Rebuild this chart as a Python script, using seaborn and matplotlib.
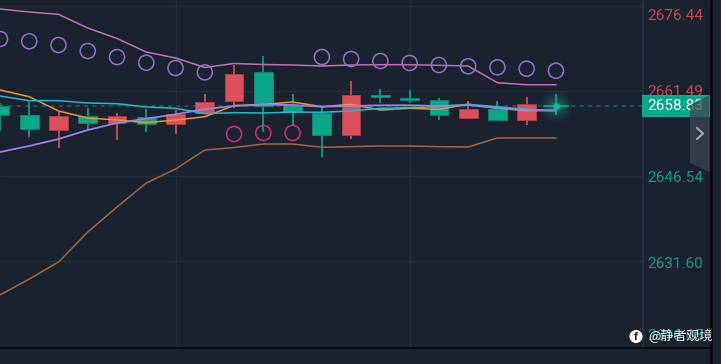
import matplotlib
matplotlib.use("Agg")
import matplotlib.pyplot as plt
from matplotlib.patches import Rectangle, Polygon, Circle
import numpy as np
import seaborn as sns

BG = "#1a222f"
GRID = "#242e3b"
RED = "#dd4f5b"
GREEN = "#0aa88a"

idx = list(range(20))
high = [2659.37, 2659.60, 2657.74, 2658.55, 2657.67, 2658.32, 2658.14, 2660.96, 2666.06, 2667.64,
        2660.96, 2658.72, 2663.19, 2661.78, 2661.66, 2660.25, 2659.67, 2659.67, 2660.48, 2660.90]
low = [2654.45, 2653.44, 2651.51, 2654.62, 2652.86, 2654.32, 2653.92, 2657.56, 2658.44, 2654.32,
       2655.50, 2649.82, 2653.04, 2659.32, 2659.43, 2656.38, 2656.79, 2656.38, 2655.50, 2657.26]
opens = [2658.84, 2657.21, 2654.62, 2657.03, 2655.91, 2656.96, 2655.73, 2657.56, 2659.67, 2664.88,
         2659.02, 2657.67, 2653.74, 2660.73, 2660.20, 2659.85, 2656.79, 2658.26, 2656.38, 2659.02]
closes = [2657.26, 2654.85, 2657.03, 2655.91, 2657.03, 2655.73, 2657.38, 2659.60, 2664.47, 2658.84,
          2657.84, 2653.74, 2660.73, 2660.38, 2659.90, 2657.26, 2658.26, 2656.38, 2659.20, 2658.83]

upper_band = [2675.91, 2675.38, 2674.97, 2672.56, 2670.72, 2668.34, 2667.29, 2665.62, 2666.32, 2666.14,
              2666.06, 2665.88, 2666.06, 2666.11, 2666.11, 2666.00, 2665.88, 2662.94, 2662.59, 2662.59]
lower_band = [2625.60, 2628.41, 2631.40, 2636.68, 2641.08, 2645.30, 2647.76, 2651.10, 2651.54, 2652.16,
              2652.16, 2651.58, 2651.69, 2651.81, 2651.81, 2651.69, 2651.63, 2653.22, 2653.22, 2653.22]
ma_orange = [2661.66, 2660.48, 2657.97, 2656.73, 2656.38, 2655.91, 2656.38, 2656.96, 2658.93, 2659.11,
             2659.55, 2658.72, 2659.14, 2658.14, 2658.44, 2658.26, 2659.14, 2658.44, 2658.02, 2658.14]
ma_cyan = [2660.60, 2659.78, 2659.78, 2659.37, 2659.25, 2658.67, 2658.44, 2657.49, 2657.67, 2657.61,
           2657.79, 2657.74, 2657.97, 2658.44, 2658.55, 2658.72, 2659.14, 2658.72, 2658.26, 2658.02]
ma_purple = [2650.75, 2651.81, 2653.04, 2654.62, 2655.85, 2656.61, 2657.38, 2658.32, 2658.84, 2659.07,
             2659.02, 2658.72, 2658.84, 2658.97, 2658.97, 2658.84, 2659.02, 2658.49, 2658.14, 2657.97]

sar_up_x = [0, 1, 2, 3, 4, 5, 6, 7, 11, 12, 13, 14, 15, 16, 17, 18, 19]
sar_up_y = [2670.63, 2670.23, 2669.57, 2668.52, 2667.46, 2666.46, 2665.53, 2664.77,
            2667.46, 2667.11, 2666.76, 2666.41, 2666.06, 2665.83, 2665.65, 2665.41, 2665.05]
sar_dn_x = [8, 9, 10]
sar_dn_y = [2653.92, 2654.10, 2654.10]

grid_prices = [2676.44, 2661.49, 2646.54, 2631.60, 2616.65]
price_labels = ["2676.44", "2661.49", "2646.54", "2631.60", "2616.65"]
label_colors = ["#c8434f", "#c8434f", "#0c9c85", "#0c9c85", "#0c9c85"]
label_shift_px = [10, 0.7, 2, 3, -10]
grid_x = [6, 14]
last_price = 2658.83

sns.set_theme(style="dark")
plt.rcParams["font.family"] = ["Roboto", "DejaVu Sans"]

fig = plt.figure(figsize=(7.21, 3.64), dpi=100, facecolor=BG)
ax = fig.add_axes([0, (364 - 347) / 364, 642 / 721, 347 / 364], facecolor=BG)
ax.set_xlim(0, 642 / 29.26)
ax.set_ylim(2616.45, 2677.49)

ax.set_yticks(grid_prices[:4])
ax.set_xticks(grid_x)
ax.grid(True, color=GRID, linewidth=1.0)
ax.set_axisbelow(True)
ax.tick_params(left=False, bottom=False, labelleft=False, labelbottom=False)
for s in ax.spines.values():
    s.set_visible(False)

ax.axhline(last_price, color="#0c6b62", lw=1.1, ls=(0, (2.5, 3)), zorder=1)

colors = [RED if c >= o else GREEN for o, c in zip(opens, closes)]
ax.vlines(idx, low, high, colors=colors, linewidth=1.2, zorder=2)
bottoms = [min(o, c) for o, c in zip(opens, closes)]
heights = [max(abs(c - o), 0.2) for o, c in zip(opens, closes)]
edge = ["#a8424f" if col == RED else "#0c8a74" for col in colors]
ax.bar(idx[:19], heights[:19], bottom=bottoms[:19], width=0.64, color=colors[:19],
       edgecolor=edge[:19], linewidth=0.6, zorder=3)
# last, still forming bar
ax.hlines(last_price, 18.55, 19.45, color=GREEN, lw=1.2, zorder=3)

line_kw = dict(linewidth=1.1, zorder=4, legend=False)
sns.lineplot(x=idx, y=upper_band, color="#c56cb4", ax=ax, **line_kw)
sns.lineplot(x=idx, y=lower_band, color="#9c673f", ax=ax, **line_kw)
sns.lineplot(x=idx, y=ma_orange, color="#e39a32", ax=ax, **line_kw)
sns.lineplot(x=idx, y=ma_cyan, color="#25b9d2", ax=ax, **line_kw)
sns.lineplot(x=idx, y=ma_purple, color="#9a80e4", ax=ax, linewidth=1.3, zorder=4, legend=False)

sns.scatterplot(x=sar_up_x, y=sar_up_y, s=118, marker="o", facecolor="none",
                edgecolor="#8f70cc", linewidth=1.1, ax=ax, zorder=5, clip_on=True)
sns.scatterplot(x=sar_dn_x, y=sar_dn_y, s=118, marker="o", facecolor="none",
                edgecolor="#d42b78", linewidth=1.1, ax=ax, zorder=5)

# pulsing last-price dot
for size, alpha in zip([520, 320, 170, 70], [0.07, 0.11, 0.16, 0.25]):
    ax.scatter([19], [last_price], s=size, color=GREEN, alpha=alpha, linewidths=0, zorder=6)
ax.scatter([19], [last_price], s=24, color="#0dbb98", linewidths=0, zorder=7)

for lbl, p, col, sh in zip(price_labels, grid_prices, label_colors, label_shift_px):
    ax.annotate(lbl, xy=(1, p), xycoords=("axes fraction", "data"),
                xytext=(5, -sh), textcoords="offset pixels", color=col,
                fontsize=11, va="center", ha="left", annotation_clip=False, zorder=1)

# chart chrome in pixel space
ch = fig.add_axes([0, 0, 1, 1], facecolor="none")
ch.set_xlim(0, 721)
ch.set_ylim(364, 0)
ch.axis("off")
ch.plot([642.5, 642.5], [0, 347], color="#262f3d", lw=1.4)
ch.plot([0, 711], [347.5, 347.5], color="#05070a", lw=1.1)
ch.plot([710.5, 710.5], [0, 364], color="#05070a", lw=1.8)
ch.add_patch(Rectangle((642, 95), 67.5, 22, color=GREEN, lw=0, zorder=2))
ch.text(647, 106.5, f"{last_price:.2f}", color="white", fontsize=11, va="center", ha="left", zorder=3)
ch.add_patch(Polygon([(709.5, 95), (690, 105), (690, 163), (709.5, 172)], closed=True,
                     facecolor="#3d4552", alpha=0.72, lw=0, zorder=4))
ch.plot([697, 703, 697], [128, 133.5, 139], color="#a3a8b0", lw=1.5, zorder=5)

# watermark
ch.add_patch(Circle((636, 336.5), 6.5, color="white", lw=0, zorder=6))
ch.text(636.3, 337, "f", color="#111111", fontsize=8, fontweight="bold", ha="center", va="center", zorder=7)
ch.text(648, 336, "@静者观境", color="#e6e6e6", fontsize=9.4, ha="left", va="center",
        family=["Noto Sans CJK SC", "DejaVu Sans"], zorder=7)

fig.savefig("out.png", dpi=100, facecolor=BG)
